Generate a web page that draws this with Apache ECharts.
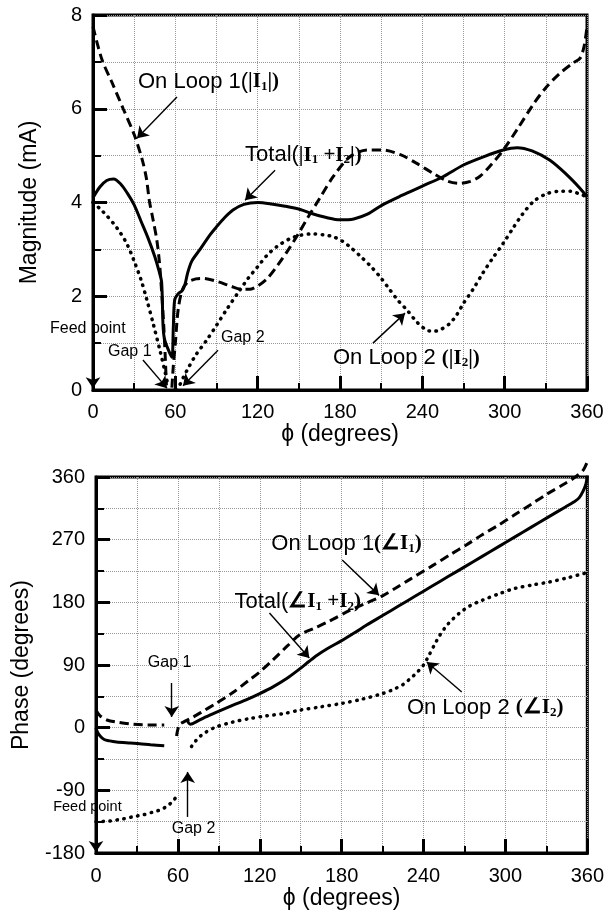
<!DOCTYPE html>
<html>
<head>
<meta charset="utf-8">
<script src="https://cdn.jsdelivr.net/npm/echarts@6/dist/echarts.min.js"></script>
<style>
  html, body { margin: 0; padding: 0; background: #ffffff; }
  #chart { width: 607px; height: 916px; }
</style>
</head>
<body>
<div id="chart"></div>
<script>
// magnitude panel, phi in degrees vs mA ('-' breaks the curve at the gaps)
const loop1Mag = [
  [0, 7.75], [6.5, 7.05], [14, 6.55], [22, 6.0], [30, 5.45], [36, 4.9], [39, 4.5], [41, 4.05],
  [44, 3.6], [46.5, 3.2], [48.5, 2.7], [50, 2.1], [51.5, 1.4], [52.5, 0.8], [53.5, 0.1],
  [55, '-'],
  [57.5, 0.05], [58.5, 0.5], [60, 1.0], [62, 1.7], [65, 2.13], [69, 2.3], [75, 2.37], [80, 2.38],
  [90, 2.32], [100, 2.22], [108, 2.15], [114, 2.15], [120, 2.22], [127, 2.38], [135, 2.68],
  [143, 3.02], [150, 3.35], [157, 3.7], [165, 4.08], [175, 4.55], [187, 4.97], [200, 5.12],
  [211, 5.12], [224, 5.02], [235, 4.85], [248, 4.62], [258, 4.46], [267, 4.41], [275, 4.45],
  [282, 4.56], [290, 4.8], [299, 5.12], [310, 5.6], [321, 6.1], [330, 6.45], [340, 6.75],
  [350, 6.98], [355, 7.08], [358, 7.35], [360, 7.75]
];
const totalMag = [
  [0, 4.1], [5, 4.33], [10, 4.47], [15, 4.5], [20, 4.4], [25, 4.2], [30, 3.95], [35, 3.6],
  [40, 3.25], [45, 2.85], [48, 2.55], [50, 2.3], [51, 1.4], [52, 1.1], [55, 0.85], [57.5, 0.7],
  [58.5, 1.3], [59.5, 1.92], [62, 2.05], [65, 2.12], [67, 2.25], [69, 2.5], [72, 2.75],
  [78, 3.0], [85, 3.3], [90, 3.48], [96, 3.68], [102, 3.84], [110, 3.96], [120, 4.0],
  [130, 3.97], [140, 3.92], [151, 3.85], [160, 3.76], [170, 3.68], [180, 3.63], [190, 3.65],
  [200, 3.75], [211, 3.95], [225, 4.15], [240, 4.35], [255, 4.55], [270, 4.8], [285, 4.98],
  [299, 5.12], [309, 5.17], [320, 5.1], [333, 4.9], [345, 4.6], [355, 4.3], [360, 4.12]
];
const loop2Mag = [
  [0, 4.0], [5, 3.87], [10, 3.72], [15, 3.55], [20, 3.35], [25, 3.1], [30, 2.75], [35, 2.35],
  [39, 1.95], [44, 1.4], [49, 0.82], [52, 0.45], [54.5, 0.12],
  [57, '-'],
  [60, 0.02], [63, 0.1], [66, 0.28], [70, 0.5], [75, 0.75], [83, 1.07], [90, 1.38], [97, 1.7],
  [107, 2.13], [113, 2.38], [120, 2.63], [127, 2.88], [134, 3.06], [143, 3.22], [151, 3.3],
  [160, 3.33], [168, 3.31], [175, 3.27], [182, 3.17], [187, 3.06], [195, 2.85], [202, 2.65],
  [209, 2.42], [216, 2.15], [222, 1.92], [229, 1.7], [236, 1.45], [243, 1.28], [248, 1.25],
  [254, 1.3], [260, 1.42], [265, 1.6], [270, 1.85], [277, 2.15], [284, 2.49], [291, 2.8],
  [299, 3.13], [306, 3.45], [313, 3.75], [321, 4.02], [330, 4.18], [340, 4.24], [348, 4.24],
  [353, 4.2], [360, 4.12]
];

// phase panel, phi vs degrees
const loop1Phase = [
  [0, 25], [3, 17], [8, 11], [15, 8], [27, 5], [38, 4], [50, 4],
  [54, '-'],
  [59, -12], [61, 4], [64, 8], [70, 14], [77, 22], [88, 35], [100, 50], [112, 68], [120, 80],
  [129.5, 97], [140, 117], [149, 133], [160, 143], [170, 152], [185.5, 168], [197, 178],
  [209.6, 189], [220, 201], [230, 213], [246, 232], [260, 249], [271, 262], [283, 277],
  [295, 291], [307, 306], [319, 321], [330, 335], [344, 351], [352, 361], [357, 370], [360, 382]
];
const totalPhase = [
  [0, 0], [1, -6], [3, -12], [6, -17], [10, -19], [15, -20.5], [25, -22], [32, -23], [40, -24.5],
  [50, -26],
  [60, '-'],
  [67, 10], [69, 5], [75, 10], [80, 15], [88, 22], [100, 32], [110, 40], [120, 49], [130, 59],
  [140, 71], [149, 84], [156, 95], [162, 104], [170, 114], [180, 125], [190, 137], [198, 147],
  [210, 161], [222, 175], [234, 189], [246, 203], [258, 217], [271, 232], [283, 246],
  [295, 260], [307, 274], [319, 288], [331, 302], [344, 317], [350, 324], [354, 330],
  [357, 340], [359, 350], [360, 362]
];
const loop2Phase = [
  [0, -135], [10, -134], [20, -131], [27, -128], [35, -125], [42, -121], [47, -118], [52, -113],
  [56, -106], [59, -99],
  [65, '-'],
  [70, -27], [73, -19], [76, -13], [80, -7], [88, 1], [100, 8], [112.5, 13], [125, 17], [137, 20],
  [149, 25], [165, 30], [180.6, 35], [195, 41], [210, 49], [218, 55], [225, 62], [230, 70],
  [235, 79], [240, 90], [244, 104], [248, 119], [252, 133], [258, 149], [266, 164], [274, 175],
  [283, 183], [295, 192], [307, 200], [320, 205], [331.5, 209], [345, 215], [358.5, 222],
  [360, 223]
];

// annotation arrows: [from, to] in data coords
const magArrows = [
  [[61.2, 6.25], [32.1, 5.37]],
  [[132.7, 4.69], [110.8, 4.05]],
  [[204, 1.0], [227.4, 1.64]],
  [[0, 1.0], [0, 0.04]],
  [[36.4, 0.64], [53.9, 0.04]],
  [[91.1, 0.85], [65.6, 0.09]]
];
const phaseArrows = [
  [[180.4, 240.8], [207.4, 190]],
  [[127.1, 164.7], [156.3, 100]],
  [[268, 51.3], [242.4, 94.4]],
  [[55.5, 64.2], [55.5, 15.4]],
  [[67.2, -128.2], [67.2, -63.6]],
  [[0, -135.4], [0, -178.5]]
];

// annotation labels: [phi, value, rich text]
const magLabels = [
  [32.8, 6.57, '{s|On Loop 1(}{b||I}{sub|1}{b||)}'],
  [110.8, 5.01, '{s|Total(}{b||I}{sub|1}{b| +I}{sub|2}{b||)}'],
  [174.9, 0.68, '{s|On Loop 2 }{b|(|I}{sub|2}{b||)}'],
  [-31.3, 1.32, '{t|Feed point}'],
  [10.9, 0.83, '{t|Gap 1}'],
  [93.3, 1.11, '{t|Gap 2}']
];
const phaseLabels = [
  [128.5, 263.8, '{s|On Loop 1}{b|(∠I}{sub|1}{b|)}'],
  [101.5, 180.5, '{s|Total(}{b|∠I}{sub|1}{b| +I}{sub|2}{b|)}'],
  [227.8, 28.3, '{s|On Loop 2 }{b|(∠I}{sub|2}{b|)}'],
  [38, 92.9, '{t|Gap 1}'],
  [55.5, -145.4, '{t|Gap 2}'],
  [-31.4, -113.9, '{f|Feed point}']
];

const SANS = "'Liberation Sans', Arial, sans-serif";
const NARROW = "'Liberation Sans Narrow', 'Arial Narrow', 'Liberation Sans', sans-serif";
const SERIF = "'Liberation Serif', 'Times New Roman', serif";
const GRID_GREY = '#9a9a9a';

const richStyles = {
  s: { fontFamily: SANS, fontSize: 22, color: '#000' },
  b: { fontFamily: SERIF, fontSize: 21, fontWeight: 'bold', color: '#000' },
  sub: { fontFamily: SERIF, fontSize: 13, fontWeight: 'bold', color: '#000', padding: [9, 0, 0, 0] },
  t: { fontFamily: SANS, fontSize: 16, color: '#000' },
  f: { fontFamily: SANS, fontSize: 14.5, color: '#000' }
};

const chart = echarts.init(document.getElementById('chart'), null, { renderer: 'canvas' });

function xAxisFor(gridIndex, labelMargin) {
  return {
    type: 'value',
    gridIndex,
    min: 0,
    max: 360,
    interval: 60,
    name: 'ϕ (degrees)',
    nameLocation: 'middle',
    nameGap: 30,
    nameTextStyle: { fontFamily: SANS, fontSize: 23, color: '#000' },
    axisLine: { onZero: false, lineStyle: { color: '#000', width: 3 } },
    axisTick: { inside: true, length: 14, lineStyle: { color: '#000', width: 3 } },
    minorTick: { show: true, splitNumber: 2, length: 7, lineStyle: { color: '#000', width: 2 } },
    splitLine: { show: true, lineStyle: { color: GRID_GREY, width: 1, type: 'dotted' } },
    minorSplitLine: { show: true, lineStyle: { color: GRID_GREY, width: 1, type: 'dotted' } },
    axisLabel: { fontFamily: NARROW, fontSize: 20, color: '#000', margin: labelMargin }
  };
}

function yAxisFor(gridIndex, min, max, interval, name, nameGap) {
  return {
    type: 'value',
    gridIndex,
    min,
    max,
    interval,
    name,
    nameLocation: 'middle',
    nameGap,
    nameRotate: 90,
    nameTextStyle: { fontFamily: SANS, fontSize: 23, color: '#000' },
    axisLine: { onZero: false, lineStyle: { color: '#000', width: 3 } },
    axisTick: { inside: true, length: 14, lineStyle: { color: '#000', width: 3 } },
    minorTick: { show: true, splitNumber: 2, length: 8, lineStyle: { color: '#000', width: 2 } },
    splitLine: { show: true, lineStyle: { color: GRID_GREY, width: 1, type: 'dotted' } },
    minorSplitLine: { show: true, lineStyle: { color: GRID_GREY, width: 1, type: 'dotted' } },
    axisLabel: { fontFamily: NARROW, fontSize: 20, color: '#000', margin: 11 }
  };
}

function curve(name, data, gridIndex, kind) {
  const styles = {
    solid: { type: 'solid', width: 3 },
    dashed: { type: [9, 5], width: 3 },
    dotted: { type: [0.5, 6.5], width: 3.5, cap: 'round' }
  };
  return {
    type: 'line',
    name,
    xAxisIndex: gridIndex,
    yAxisIndex: gridIndex,
    data,
    showSymbol: false,
    smooth: 0.3,
    clip: false,
    lineStyle: Object.assign({ color: '#000' }, styles[kind]),
    z: 3
  };
}

function arrowSeries(gridIndex, arrows) {
  return {
    type: 'line',
    xAxisIndex: gridIndex,
    yAxisIndex: gridIndex,
    data: [],
    silent: true,
    markLine: {
      silent: true,
      symbol: ['none', 'arrow'],
      symbolSize: 11,
      label: { show: false },
      lineStyle: { color: '#000', width: 1.4, type: 'solid' },
      data: arrows.map((a) => [{ coord: a[0] }, { coord: a[1] }])
    },
    z: 4
  };
}

chart.setOption({
  animation: false,
  backgroundColor: '#ffffff',
  grid: [
    { left: 93, top: 15, width: 494, height: 375, show: true, borderColor: '#000', borderWidth: 3 },
    { left: 96, top: 477, width: 493, height: 376, show: true, borderColor: '#000', borderWidth: 3 }
  ],
  xAxis: [xAxisFor(0, 12), xAxisFor(1, 13)],
  yAxis: [
    yAxisFor(0, 0, 8, 2, 'Magnitude (mA)', 52),
    yAxisFor(1, -180, 360, 90, 'Phase (degrees)', 63)
  ],
  series: [
    curve('On Loop 1 |I1|', loop1Mag, 0, 'dashed'),
    curve('Total |I1+I2|', totalMag, 0, 'solid'),
    curve('On Loop 2 |I2|', loop2Mag, 0, 'dotted'),
    curve('On Loop 1 ∠I1', loop1Phase, 1, 'dashed'),
    curve('Total ∠I1+I2', totalPhase, 1, 'solid'),
    curve('On Loop 2 ∠I2', loop2Phase, 1, 'dotted'),
    arrowSeries(0, magArrows),
    arrowSeries(1, phaseArrows)
  ]
});

// place the annotation texts through the axes' own scales
function labelGraphics(gridIndex, labels) {
  return labels.map(([x, y, text]) => {
    const [px, py] = chart.convertToPixel({ xAxisIndex: gridIndex, yAxisIndex: gridIndex }, [x, y]);
    return {
      type: 'text',
      x: px,
      y: py,
      z: 10,
      style: { text, rich: richStyles, align: 'left', verticalAlign: 'middle', fill: '#000' }
    };
  });
}

chart.setOption({
  graphic: [...labelGraphics(0, magLabels), ...labelGraphics(1, phaseLabels)]
});
</script>
</body>
</html>
